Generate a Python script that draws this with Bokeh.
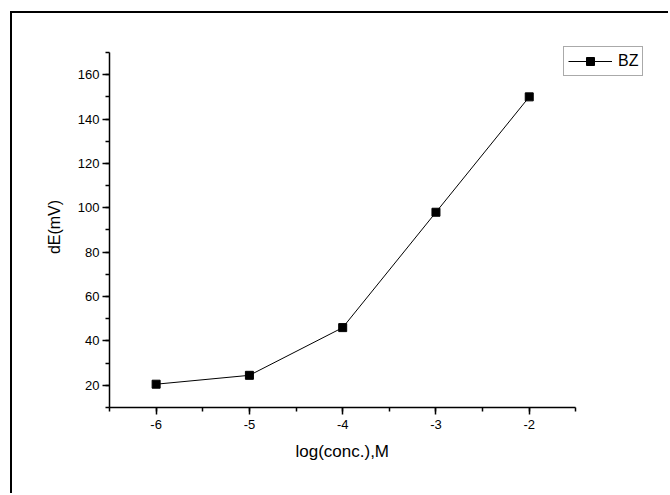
from bokeh.plotting import figure
from bokeh.models import SingleIntervalTicker, Range1d, Legend, LegendItem, PrintfTickFormatter, Title
from bokeh.embed import file_html
from bokeh.resources import INLINE

# data
log_conc = [-6, -5, -4, -3, -2]
dE_mV = [20.5, 24.5, 46, 98, 150]
series_name = "BZ"
x_label = "log(conc.),M"
y_label = "dE(mV)"
x_axis_bounds = (-6.5, -1.5)
y_axis_bounds = (10, 170)

FONT = "Liberation Sans"

p = figure(width=658, height=482, output_backend="svg", toolbar_location=None,
           x_range=Range1d(-6.5, -0.70), y_range=Range1d(10, 172.7))
p.min_border_left = 97
p.min_border_right = 20
p.min_border_top = 33
p.min_border_bottom = 88
p.outline_line_color = None
p.xgrid.visible = False
p.ygrid.visible = False
p.background_fill_color = "white"
p.border_fill_color = "white"
p.styles = {"border-top": "2px solid black", "border-left": "2px solid black",
            "margin-left": "10px", "margin-top": "11px"}

line_r = p.line(log_conc, dE_mV, line_color="black", line_width=1)
mark_r = p.scatter(log_conc, dE_mV, marker="square", size=8, fill_color="black", line_color="black")

p.xaxis.ticker = SingleIntervalTicker(interval=1, num_minor_ticks=2)
p.yaxis.ticker = SingleIntervalTicker(interval=20, num_minor_ticks=2)
p.xaxis.bounds = x_axis_bounds
p.yaxis.bounds = y_axis_bounds
p.xaxis.formatter = PrintfTickFormatter(format="%d")
p.yaxis.formatter = PrintfTickFormatter(format="%d")

for ax in (p.xaxis[0], p.yaxis[0]):
    ax.axis_line_width = 1.5
    ax.axis_line_color = "black"
    ax.major_tick_line_width = 1.5
    ax.minor_tick_line_width = 1.5
    ax.major_tick_line_color = "black"
    ax.minor_tick_line_color = "black"
    ax.major_tick_in = 0
    ax.major_tick_out = 7
    ax.minor_tick_in = 0
    ax.minor_tick_out = 4
    ax.major_label_text_font = FONT
    ax.major_label_text_font_size = "13px"
    ax.major_label_text_color = "black"
    ax.axis_label_text_font = FONT
    ax.axis_label_text_font_size = "16px"
    ax.axis_label_text_font_style = "normal"
    ax.axis_label_text_color = "black"

p.yaxis.axis_label = y_label
p.xaxis.major_label_standoff = 5
p.yaxis.major_label_standoff = 3
p.yaxis.axis_label_standoff = 12

# x-axis title placed under the bounded axis (frame extends right for the legend)
xt = Title(text=x_label, align="left", offset=186, text_font=FONT,
           text_font_size="17px", text_font_style="normal", text_color="black",
           vertical_align="bottom", standoff=17)
p.add_layout(xt, "below")

legend = Legend(items=[LegendItem(label=series_name, renderers=[line_r, mark_r])],
                location=(454, 331))
legend.label_text_font = FONT
legend.label_text_font_size = "16px"
legend.label_text_color = "black"
legend.border_line_color = "#555555"
legend.border_line_width = 1
legend.padding = 4
legend.margin = 0
legend.glyph_width = 44
legend.glyph_height = 20
legend.label_standoff = 6
legend.background_fill_color = "white"
p.add_layout(legend, "center")

open("out.html", "w").write(file_html(p, INLINE))
